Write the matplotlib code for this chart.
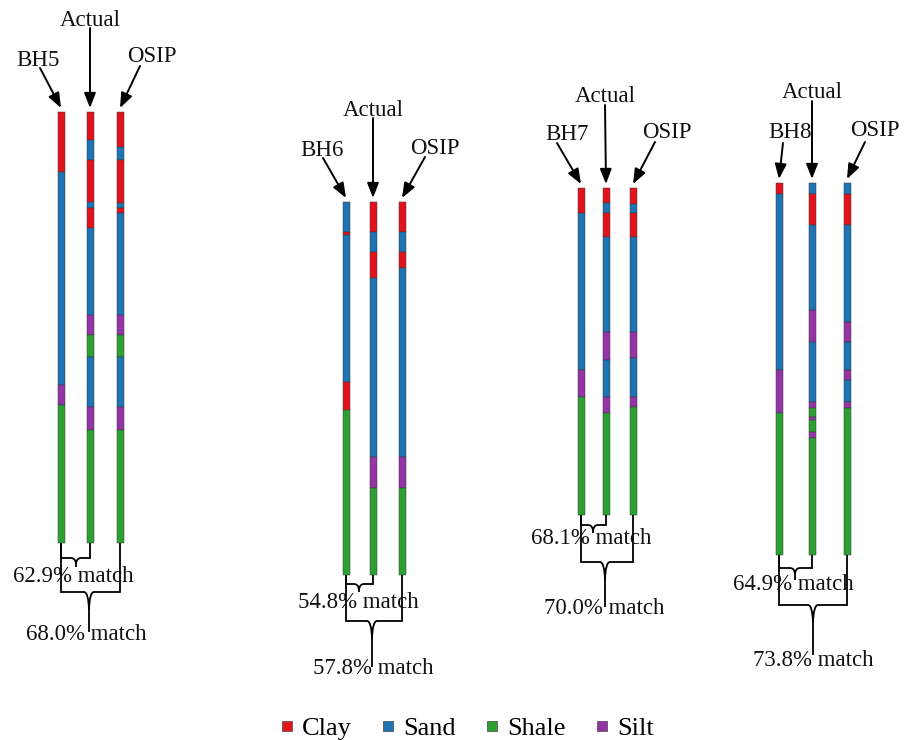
import matplotlib
matplotlib.use("Agg")
import matplotlib.pyplot as plt
from matplotlib.path import Path
from matplotlib.patches import PathPatch
from matplotlib.lines import Line2D

# ---------------- data ----------------
lith_names = ["Clay", "Sand", "Shale", "Silt"]
lith_colors = {"Clay": "#e3131b", "Sand": "#1f74b4", "Shale": "#2ca131", "Silt": "#9534a6"}

group_names = ["BH5", "BH6", "BH7", "BH8"]
column_names = ["Actual", "OSIP"]

# boundaries (depth from column top, px-units) and lithology of each interval
bh5_bounds = [0, 60, 273, 293, 431]
bh5_lith = ["Clay", "Sand", "Silt", "Shale"]
act5_bounds = [0, 28, 48, 90, 96, 116, 203, 223, 245, 295, 318, 431]
act5_lith = ["Clay", "Sand", "Clay", "Sand", "Clay", "Sand", "Silt", "Shale", "Sand", "Silt", "Shale"]
osip5_bounds = [0, 35, 48, 91, 96, 101, 203, 223, 245, 295, 318, 431]
osip5_lith = ["Clay", "Sand", "Clay", "Sand", "Clay", "Sand", "Silt", "Shale", "Sand", "Silt", "Shale"]

bh6_bounds = [0, 30, 33, 180, 208, 373]
bh6_lith = ["Sand", "Clay", "Sand", "Clay", "Shale"]
act6_bounds = [0, 30, 50, 76, 255, 286, 373]
act6_lith = ["Clay", "Sand", "Clay", "Sand", "Silt", "Shale"]
osip6_bounds = [0, 30, 50, 66, 255, 286, 373]
osip6_lith = ["Clay", "Sand", "Clay", "Sand", "Silt", "Shale"]

bh7_bounds = [0, 25, 182, 209, 327]
bh7_lith = ["Clay", "Sand", "Silt", "Shale"]
act7_bounds = [0, 15, 25, 49, 144, 172, 209, 225, 327]
act7_lith = ["Clay", "Sand", "Clay", "Sand", "Silt", "Sand", "Silt", "Shale"]
osip7_bounds = [0, 16, 25, 49, 144, 170, 209, 219, 327]
osip7_lith = ["Clay", "Sand", "Clay", "Sand", "Silt", "Sand", "Silt", "Shale"]

bh8_bounds = [0, 11, 187, 230, 372]
bh8_lith = ["Clay", "Sand", "Silt", "Shale"]
act8_bounds = [0, 11, 42, 127, 159, 219, 225, 234, 237, 249, 255, 372]
act8_lith = ["Sand", "Clay", "Sand", "Silt", "Sand", "Silt", "Shale", "Silt", "Shale", "Silt", "Shale"]
osip8_bounds = [0, 11, 42, 139, 159, 187, 197, 219, 225, 372]
osip8_lith = ["Sand", "Clay", "Sand", "Silt", "Sand", "Silt", "Sand", "Silt", "Shale"]

match_pair = [62.9, 54.8, 68.1, 64.9]   # borehole vs actual
match_all = [68.0, 57.8, 70.0, 73.8]    # overall

# ---------------- layout ----------------
columns = [
    [(bh5_bounds, bh5_lith), (act5_bounds, act5_lith), (osip5_bounds, osip5_lith)],
    [(bh6_bounds, bh6_lith), (act6_bounds, act6_lith), (osip6_bounds, osip6_lith)],
    [(bh7_bounds, bh7_lith), (act7_bounds, act7_lith), (osip7_bounds, osip7_lith)],
    [(bh8_bounds, bh8_lith), (act8_bounds, act8_lith), (osip8_bounds, osip8_lith)],
]
col_x = [[61, 90, 120], [346, 373, 402], [581, 606, 633], [779, 812, 847]]
group_top = [112, 202, 188, 183]
bar_w = 7

# label layout: (text center x, text center y, arrow start x, arrow start y)
label_pos = [
    [(38, 60, 40, 68), (90, 20, 90, 28), (152, 57, 140, 66)],
    [(322, 150, 323, 158), (373, 110, 373, 118), (435, 148, 425, 157)],
    [(567, 135, 557, 143), (605, 97, 605, 105), (667, 133, 655, 142)],
    [(790, 133, 783, 143), (812, 93, 812, 101), (875, 130, 865, 142)],
]
# brace layout: (small y, small cusp x, small tip y, text1 x, text1 y,
#                big y, big cusp x, big tip y, text2 x, text2 y)
brace_pos = [
    (558, 76, 567, 73, 577, 592, 89, 632, 86, 635),
    (584, 359, 592, 358, 602, 621, 372, 667, 373, 668),
    (525, 593, 533, 591, 539, 562, 605, 607, 604, 608),
    (568, 795, 580, 793, 585, 605, 813, 655, 813, 660),
]

serif = "Liberation Serif"

fig = plt.figure(figsize=(9.1, 7.4), dpi=100)
ax = fig.add_axes([0, 0, 1, 1])
ax.set_xlim(0, 910)
ax.set_ylim(740, 0)
ax.axis("off")

for g in range(4):
    top = group_top[g]
    for c in range(3):
        bounds, lith = columns[g][c]
        x = col_x[g][c]
        for i, name in enumerate(lith):
            ax.bar(x, bounds[i + 1] - bounds[i], bottom=top + bounds[i], width=bar_w,
                   color=lith_colors[name], edgecolor="#3a3a3a", linewidth=0.35, zorder=2)
    # labels and arrows
    names = [group_names[g]] + column_names
    for c in range(3):
        tx, ty, sx, sy = label_pos[g][c]
        ax.text(tx, ty, names[c], ha="center", va="center", fontsize=16.5,
                family=serif, color="#111111")
        ax.annotate("", xy=(col_x[g][c], top - 4), xytext=(sx, sy),
                    arrowprops=dict(arrowstyle="-|>,head_length=0.9,head_width=0.35",
                                    color="black", lw=1.4, shrinkA=0, shrinkB=0))

    # braces
    sy_, scx, sty, t1x, t1y, by, bcx, bty, t2x, t2y = brace_pos[g]
    bottoms = [top + columns[g][c][0][-1] for c in range(3)]

    def brace(xl, xr, ybl, ybr, yh, xc, ytip, curve_depth):
        w = 5
        verts = [(xl, ybl), (xl, yh), (xc - w, yh), (xc - 0.5, yh), (xc, yh + curve_depth),
                 (xc, ytip)]
        codes = [Path.MOVETO, Path.LINETO, Path.LINETO, Path.CURVE3, Path.CURVE3, Path.LINETO]
        ax.add_patch(PathPatch(Path(verts, codes), fill=False, lw=1.3, ec="black", zorder=3))
        verts = [(xr, ybr), (xr, yh), (xc + w, yh), (xc + 0.5, yh), (xc, yh + curve_depth)]
        codes = [Path.MOVETO, Path.LINETO, Path.LINETO, Path.CURVE3, Path.CURVE3]
        ax.add_patch(PathPatch(Path(verts, codes), fill=False, lw=1.3, ec="black", zorder=3))

    brace(col_x[g][0], col_x[g][1], bottoms[0], bottoms[1], sy_, scx, sty, min(6, sty - sy_))
    brace(col_x[g][0], col_x[g][2], bottoms[0], bottoms[2], by, bcx, bty, 18)

    ax.text(t1x, t1y, f"{match_pair[g]:.1f}% match", ha="center", va="center",
            fontsize=16.5, family=serif, color="#111111", zorder=4)
    ax.text(t2x, t2y, f"{match_all[g]:.1f}% match", ha="center", va="center",
            fontsize=16.5, family=serif, color="#111111", zorder=4)

handles = [Line2D([], [], marker="s", linestyle="none", markersize=6.5,
                  markerfacecolor=lith_colors[n], markeredgecolor="#444444",
                  markeredgewidth=0.5) for n in lith_names]
fig.legend(handles, lith_names, loc="center", bbox_to_anchor=(467 / 910, 1 - 728 / 740),
           ncol=4, frameon=False, prop={"family": serif, "size": 19},
           handlelength=0.5, handletextpad=0.3, columnspacing=1.15, borderpad=0)

fig.savefig("out.png", dpi=100)
